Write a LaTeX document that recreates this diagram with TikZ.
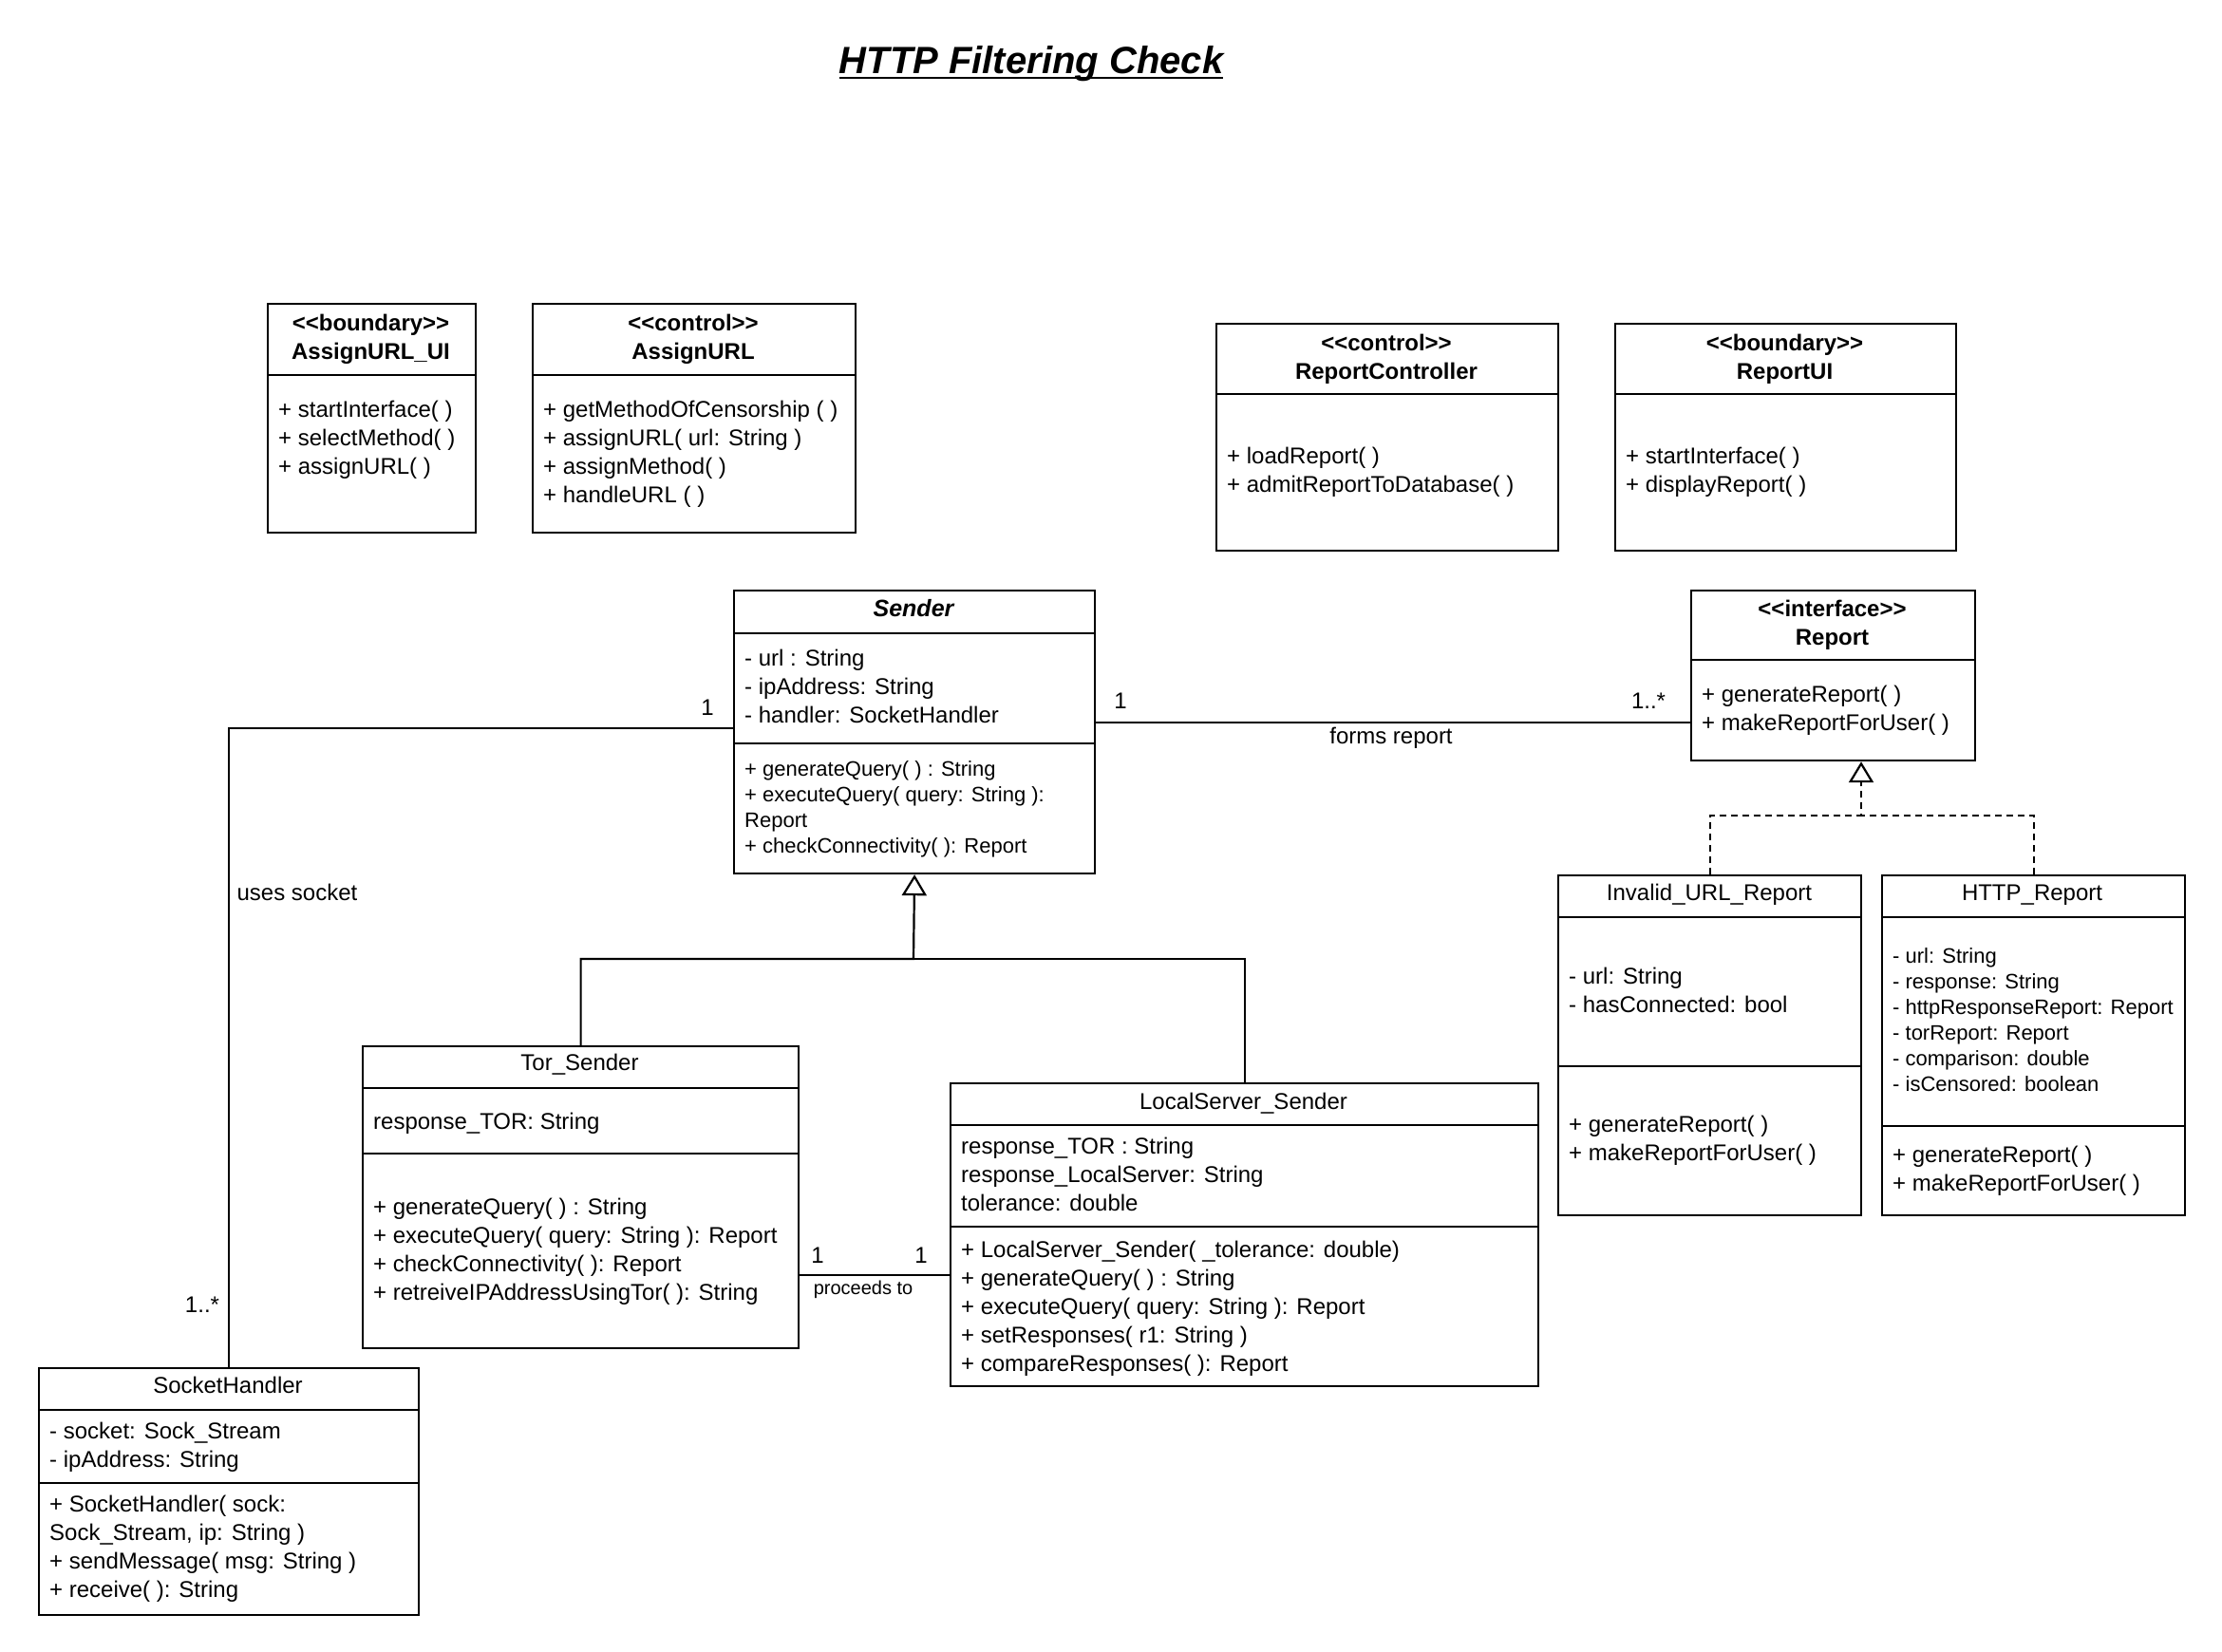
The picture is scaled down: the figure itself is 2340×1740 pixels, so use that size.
\documentclass[tikz,border=0pt]{standalone}
\usepackage{fontspec}
\setmainfont{Liberation Sans}
\usetikzlibrary{arrows.meta}
\newcommand\stereo[1]{<\kern0pt<#1>\kern0pt>}
\begin{document}
\begin{tikzpicture}[x=1pt,y=-1pt,
  cls/.style={draw, line width=2.2pt, inner sep=0pt, anchor=north west},
  txt/.style={inner sep=0pt, anchor=north west, align=left, yshift=-4.5pt, font=\fontsize{24}{30}\selectfont, execute at begin node=\strut},
  stxt/.style={inner sep=0pt, anchor=north west, align=left, yshift=-4pt, font=\fontsize{22}{27}\selectfont, execute at begin node=\strut},
  hdr/.style={inner sep=0pt, anchor=north, align=center, yshift=-4.5pt, font=\fontsize{24}{30}\selectfont\bfseries, execute at begin node=\strut},
  ttl/.style={inner sep=0pt, anchor=base, font=\fontsize{24}{30}\selectfont},
  lbl/.style={inner sep=0pt, anchor=base, font=\fontsize{24}{30}\selectfont},
  slbl/.style={inner sep=0pt, anchor=base, font=\fontsize{20}{24}\selectfont},
  conn/.style={line width=2.2pt},
  inherit/.style={conn, -{Triangle[open, length=22pt, width=26pt]}},
  realize/.style={inherit, dash pattern=on 7pt off 5pt},
  dashedconn/.style={conn, dash pattern=on 7pt off 5pt}
]
\useasboundingbox (0,0) rectangle (2340,1740);
\fill[white] (0,0) rectangle (2340,1740);

% title
\node[inner sep=0pt, anchor=base, font=\fontsize{40}{48}\selectfont\bfseries\itshape] (title) at (1086,77) {HTTP Filtering Check};
\draw[line width=2.5pt] ([yshift=-5pt]title.base west) -- ([yshift=-5pt]title.base east);

% AssignURL_UI
\node[cls, minimum width=219pt, minimum height=241pt] (aui) at (281,319) {};
\draw[conn] (aui.west |- 0,395) -- (aui.east |- 0,395);
\node[hdr] (auiH) at (390.5,326) {\stereo{boundary}\\AssignURL\_UI};
\node[txt] (auiM) at (293,417) {+ startInterface( )\\+ selectMethod( )\\+ assignURL( )};

% AssignURL
\node[cls, minimum width=340pt, minimum height=241pt] (aurl) at (560,319) {};
\draw[conn] (aurl.west |- 0,395) -- (aurl.east |- 0,395);
\node[hdr] (aurlH) at (730,326) {\stereo{control}\\AssignURL};
\node[txt] (aurlM) at (572,417) {+ getMethodOfCensorship ( )\\+ assignURL( url: String )\\+ assignMethod( )\\+ handleURL ( )};

% ReportController
\node[cls, minimum width=360pt, minimum height=239pt] (rctl) at (1280,340) {};
\draw[conn] (rctl.west |- 0,415) -- (rctl.east |- 0,415);
\node[hdr] (rctlH) at (1460,347) {\stereo{control}\\ReportController};
\node[txt] (rctlM) at (1292,466) {+ loadReport( )\\+ admitReportToDatabase( )};

% ReportUI
\node[cls, minimum width=359pt, minimum height=239pt] (rui) at (1700,340) {};
\draw[conn] (rui.west |- 0,415) -- (rui.east |- 0,415);
\node[hdr] (ruiH) at (1879.5,347) {\stereo{boundary}\\ReportUI};
\node[txt] (ruiM) at (1712,466) {+ startInterface( )\\+ displayReport( )};

% Sender
\node[cls, minimum width=380pt, minimum height=298pt] (sender) at (772,621) {};
\draw[conn] (sender.west |- 0,667) -- (sender.east |- 0,667);
\draw[conn] (sender.west |- 0,783) -- (sender.east |- 0,783);
\node[ttl, font=\fontsize{25}{30}\selectfont\bfseries\itshape] (senderT) at (962,649) {Sender};
\node[txt] (senderA) at (784,679) {- url : String\\- ipAddress: String\\- handler: SocketHandler};
\node[stxt] (senderM) at (784,797) {+ generateQuery( ) : String\\+ executeQuery( query: String ):\\Report\\+ checkConnectivity( ): Report};

% Report interface
\node[cls, minimum width=299pt, minimum height=179pt] (report) at (1780,621) {};
\draw[conn] (report.west |- 0,695) -- (report.east |- 0,695);
\node[hdr] (reportH) at (1929.5,627) {\stereo{interface}\\Report};
\node[txt] (reportM) at (1792,717) {+ generateReport( )\\+ makeReportForUser( )};

% Invalid_URL_Report
\node[cls, minimum width=319pt, minimum height=358pt] (inv) at (1640,921) {};
\draw[conn] (inv.west |- 0,966) -- (inv.east |- 0,966);
\draw[conn] (inv.west |- 0,1123) -- (inv.east |- 0,1123);
\node[ttl] (invT) at (1800,948) {Invalid\_URL\_Report};
\node[txt] (invA) at (1652,1014) {- url: String\\- hasConnected: bool};
\node[txt] (invM) at (1652,1170) {+ generateReport( )\\+ makeReportForUser( )};

% HTTP_Report
\node[cls, minimum width=319pt, minimum height=358pt] (http) at (1981,921) {};
\draw[conn] (http.west |- 0,966) -- (http.east |- 0,966);
\draw[conn] (http.west |- 0,1186) -- (http.east |- 0,1186);
\node[ttl] (httpT) at (2140,948) {HTTP\_Report};
\node[stxt] (httpA) at (1993,994) {- url: String\\- response: String\\- httpResponseReport: Report\\- torReport: Report\\- comparison: double\\- isCensored: boolean};
\node[txt] (httpM) at (1993,1202) {+ generateReport( )\\+ makeReportForUser( )};

% Tor_Sender
\node[cls, minimum width=459pt, minimum height=318pt] (tor) at (381,1101) {};
\draw[conn] (tor.west |- 0,1146) -- (tor.east |- 0,1146);
\draw[conn] (tor.west |- 0,1215) -- (tor.east |- 0,1215);
\node[ttl] (torT) at (610.5,1127) {Tor\_Sender};
\node[txt] (torA) at (393,1164) {response\_TOR: String};
\node[txt] (torM) at (393,1257) {+ generateQuery( ) : String\\+ executeQuery( query: String ): Report\\+ checkConnectivity( ): Report\\+ retreiveIPAddressUsingTor( ): String};

% LocalServer_Sender
\node[cls, minimum width=619pt, minimum height=319pt] (loc) at (1000,1140) {};
\draw[conn] (loc.west |- 0,1185) -- (loc.east |- 0,1185);
\draw[conn] (loc.west |- 0,1292) -- (loc.east |- 0,1292);
\node[ttl] (locT) at (1309.5,1168) {LocalServer\_Sender};
\node[txt] (locA) at (1012,1193) {response\_TOR : String\\response\_LocalServer: String\\tolerance: double};
\node[txt] (locM) at (1012,1302) {+ LocalServer\_Sender( \_tolerance: double)\\+ generateQuery( ) : String\\+ executeQuery( query: String ): Report\\+ setResponses( r1: String )\\+ compareResponses( ): Report};

% SocketHandler
\node[cls, minimum width=400pt, minimum height=260pt] (sock) at (40,1440) {};
\draw[conn] (sock.west |- 0,1485) -- (sock.east |- 0,1485);
\draw[conn] (sock.west |- 0,1562) -- (sock.east |- 0,1562);
\node[ttl] (sockT) at (240,1467) {SocketHandler};
\node[txt] (sockA) at (52,1493) {- socket: Sock\_Stream\\- ipAddress: String};
\node[txt] (sockM) at (52,1570) {+ SocketHandler( sock:\\Sock\_Stream, ip: String )\\+ sendMessage( msg: String )\\+ receive( ): String};

% Sender -- Report association
\draw[conn] (sender.east |- 0,761) -- (report.west |- 0,761);
\node[lbl] (fr1) at (1180,746) {1};
\node[lbl] (fr2) at (1736,746) {1..*};
\node[lbl] (frL) at (1465,783) {forms report};

% Sender -- SocketHandler association
\draw[conn] (sender.west |- 0,767) -| (sock.north);
\node[lbl] (us1) at (745,753) {1};
\node[lbl] (us2) at (213,1382) {1..*};
\node[lbl] (usL) at (313,948) {uses socket};

% Tor_Sender -- LocalServer_Sender association
\draw[conn] (tor.east |- 0,1343) -- (loc.west |- 0,1343);
\node[lbl] (pt1) at (861,1330) {1};
\node[lbl] (pt2) at (970,1330) {1};
\node[slbl] (ptL) at (909,1363) {proceeds to};

% generalization
\coordinate (inhJ) at (962,1010);
\draw[inherit] (tor.north) |- (inhJ) -- (sender.south);
\draw[conn] (loc.north) |- (inhJ);

% realization
\coordinate (realJ) at (1960,859);
\draw[realize] (inv.north) |- (realJ) -- (realJ |- report.south);
\draw[dashedconn] (http.north) |- (realJ);
\end{tikzpicture}
\end{document}
